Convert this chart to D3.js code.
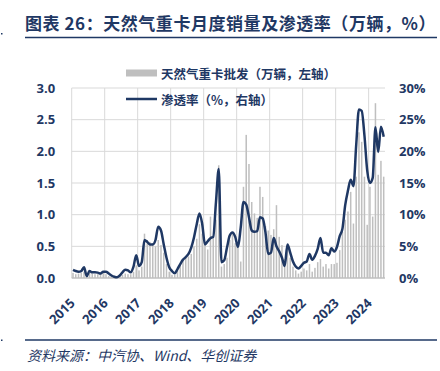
<!DOCTYPE html>
<html>
<head>
<meta charset="utf-8">
<script src="https://cdn.jsdelivr.net/npm/d3@7"></script>
<style>
  body { margin: 0; background: #fff; }
  svg text { font-family: "Open Sans", "Noto Sans CJK SC", sans-serif; }
</style>
</head>
<body>
<div id="chart"></div>
<script>
// years on the x axis, one tick per January
const years = ["2015", "2016", "2017", "2018", "2019", "2020", "2021", "2022", "2023", "2024"];

// monthly wholesale of natural-gas heavy trucks (10k units), Jan 2015 .. Jun 2024
const sales = [
  0.08, 0.06, 0.07, 0.08, 0.10, 0.05, 0.08, 0.07, 0.06, 0.06, 0.07, 0.09, // 2015
  0.06, 0.03, 0.04, 0.03, 0.02, 0.03, 0.05, 0.07, 0.06, 0.06, 0.10, 0.20, // 2016
  0.12, 0.18, 0.70, 0.60, 0.57, 0.55, 0.50, 0.60, 0.52, 0.40, 0.22, 0.10, // 2017
  0.05, 0.05, 0.12, 0.22, 0.28, 0.32, 0.34, 0.38, 0.50, 0.62, 0.85, 0.70, // 2018
  0.55, 0.45, 0.97, 0.66, 0.92, 1.78, 0.18, 0.22, 0.32, 0.60, 0.73, 0.55, // 2019
  0.52, 0.26, 1.44, 2.26, 1.80, 1.20, 1.02, 0.95, 1.44, 1.28, 0.82, 0.75, // 2020
  0.68, 0.77, 1.15, 0.65, 0.52, 0.30, 0.52, 0.32, 0.18, 0.12, 0.07, 0.10, // 2021
  0.15, 0.12, 0.22, 0.10, 0.16, 0.25, 0.30, 0.18, 0.22, 0.15, 0.22, 0.22, // 2022
  0.24, 0.44, 0.73, 0.92, 1.05, 1.36, 0.86, 1.60, 2.30, 2.15, 1.60, 0.84, // 2023
  1.44, 0.97, 2.76, 1.63, 1.85, 1.60                                      // 2024
];

// penetration rate (%), same months
const rate = [
  1.3, 1.1, 1.0, 1.1, 1.7, 0.3, 1.1, 0.9, 0.9, 0.85, 0.7, 1.0,
  1.0, 0.7, 0.4, 0.2, 0.1, 0.4, 0.9, 1.3, 1.2, 0.9, 1.8, 3.6,
  1.9, 2.5, 6.0, 5.7, 5.3, 5.3, 6.0, 8.1, 7.5, 5.3, 3.2, 1.7,
  1.1, 0.75, 1.4, 2.2, 2.9, 3.3, 3.8, 4.8, 6.4, 8.5, 10.2, 8.5,
  5.3, 5.8, 6.3, 6.5, 12.0, 17.2, 2.5, 2.8, 4.8, 6.7, 7.2, 6.5,
  4.9, 8.0, 12.0, 11.6, 9.6, 7.5, 7.3, 7.4, 9.6, 9.4, 7.2, 3.8,
  4.0, 6.3, 5.0, 4.2, 3.2, 1.9, 5.3, 4.0, 2.6, 1.8, 1.5, 1.9,
  2.4, 2.6, 3.8, 2.9, 3.5, 4.6, 6.3, 4.0, 4.0, 3.6, 4.7, 4.2,
  4.9, 6.6, 7.8, 11.5, 13.8, 15.5, 14.5, 21.0, 26.6, 26.4, 22.5, 17.0,
  15.0, 15.8, 23.8, 19.9, 23.9, 22.3
];

const leftTicks = [0, 0.5, 1.0, 1.5, 2.0, 2.5, 3.0];
const rightTicks = [0, 5, 10, 15, 20, 25, 30];

const months = sales.map((d, i) => years[0] + "-" + i);
const data = months.map((m, i) => ({ m: m, sales: sales[i], rate: rate[i] }));

const navy = "#1f3864";
const W = 440, H = 371;
const margin = { left: 71.7, top: 88, right: 55, bottom: 93 };
const width = W - margin.left - margin.right;
const height = H - margin.top - margin.bottom;

const svg = d3.select("#chart").append("svg")
  .attr("width", W)
  .attr("height", H);

// title + rules
svg.append("text")
  .attr("x", 25)
  .attr("y", 30)
  .attr("fill", navy)
  .attr("font-size", 17)
  .attr("font-weight", "bold")
  .attr("letter-spacing", 0.55)
  .style("font-family", "'Noto Sans CJK SC', sans-serif")
  .text("图表 26：天然气重卡月度销量及渗透率（万辆，%）");

svg.append("line")
  .attr("x1", 25).attr("x2", 437)
  .attr("y1", 37.5).attr("y2", 37.5)
  .attr("stroke", navy).attr("stroke-width", 1.5);

svg.append("line")
  .attr("x1", 25).attr("x2", 437)
  .attr("y1", 340).attr("y2", 340)
  .attr("stroke", navy).attr("stroke-width", 1.5);

svg.append("rect").attr("x", 1).attr("y", 33).attr("width", 1.5).attr("height", 1.5).attr("fill", navy);
svg.append("rect").attr("x", 1).attr("y", 339.5).attr("width", 1.5).attr("height", 1.5).attr("fill", navy);

svg.append("text")
  .attr("x", 27)
  .attr("y", 361)
  .attr("fill", navy)
  .attr("font-size", 14)
  .attr("font-style", "italic")
  .style("font-family", "'Noto Sans CJK SC', sans-serif")
  .text("资料来源：中汽协、Wind、华创证券");

const g = svg.append("g")
  .attr("transform", `translate(${margin.left},${margin.top})`);

const x = d3.scaleBand()
  .domain(months)
  .range([0, width])
  .paddingInner(0.45)
  .paddingOuter(0.2);

const y = d3.scaleLinear()
  .domain([0, 3])
  .range([height, 0]);

const y2 = d3.scaleLinear()
  .domain([0, 30])
  .range([height, 0]);

const step = x.step();
const yearX = years.map((yr, i) => i * 12 * step);

// grid
g.append("g")
  .selectAll("line")
  .data(leftTicks.slice(1))
  .enter().append("line")
  .attr("x1", 0).attr("x2", width)
  .attr("y1", d => y(d)).attr("y2", d => y(d))
  .attr("stroke", "#d9d9d9").attr("stroke-width", 1);

g.append("g")
  .selectAll("line")
  .data(yearX)
  .enter().append("line")
  .attr("x1", d => d).attr("x2", d => d)
  .attr("y1", 0).attr("y2", height)
  .attr("stroke", "#d9d9d9").attr("stroke-width", 1);

// bars
g.selectAll("rect.bar")
  .data(data)
  .enter().append("rect")
  .attr("class", "bar")
  .attr("x", d => x(d.m))
  .attr("y", d => y(d.sales))
  .attr("width", x.bandwidth())
  .attr("height", d => height - y(d.sales))
  .attr("fill", "#bfbfbf");

// baseline
g.append("line")
  .attr("x1", 0).attr("x2", width)
  .attr("y1", height).attr("y2", height)
  .attr("stroke", "#bfbfbf").attr("stroke-width", 1.5);

// line
const line = d3.line()
  .x(d => x(d.m) + x.bandwidth() / 2)
  .y(d => y2(d.rate))
  .curve(d3.curveMonotoneX);

g.append("path")
  .datum(data)
  .attr("fill", "none")
  .attr("stroke", navy)
  .attr("stroke-width", 2.5)
  .attr("stroke-linejoin", "round")
  .attr("d", line);

// axes
const leftAxis = g.append("g")
  .call(d3.axisLeft(y).tickValues(leftTicks).tickFormat(d3.format(".1f")).tickSize(0).tickPadding(16.5));
leftAxis.select(".domain").remove();
leftAxis.selectAll("text")
  .attr("fill", navy).attr("font-size", 13).attr("font-weight", "bold")
  .style("font-family", "'Open Sans', sans-serif");

const rightAxis = g.append("g")
  .attr("transform", `translate(${width},0)`)
  .call(d3.axisRight(y2).tickValues(rightTicks).tickFormat(d => d + "%").tickSize(0).tickPadding(14));
rightAxis.select(".domain").remove();
rightAxis.selectAll("text")
  .attr("fill", navy).attr("font-size", 13).attr("font-weight", "bold")
  .style("font-family", "'Open Sans', sans-serif");

g.append("g")
  .selectAll("text")
  .data(years)
  .enter().append("text")
  .attr("transform", (d, i) => `translate(${yearX[i] + 4},${height + 26}) rotate(-45)`)
  .attr("text-anchor", "end")
  .attr("fill", navy)
  .attr("font-size", 13)
  .attr("font-weight", "bold")
  .style("font-family", "'Open Sans', sans-serif")
  .text(d => d);

// legend
const legend = svg.append("g");
legend.append("rect")
  .attr("x", 126).attr("y", 69.5)
  .attr("width", 31).attr("height", 7)
  .attr("fill", "#bfbfbf");
legend.append("text")
  .attr("x", 161).attr("y", 73)
  .attr("dominant-baseline", "central")
  .attr("fill", navy).attr("font-size", 12.5).attr("font-weight", "bold")
  .style("font-family", "'Noto Sans CJK SC', sans-serif")
  .text("天然气重卡批发（万辆，左轴）");
legend.append("line")
  .attr("x1", 126).attr("x2", 157)
  .attr("y1", 99).attr("y2", 99)
  .attr("stroke", navy).attr("stroke-width", 2.5);
legend.append("text")
  .attr("x", 161).attr("y", 99)
  .attr("dominant-baseline", "central")
  .attr("fill", navy).attr("font-size", 12.5).attr("font-weight", "bold")
  .style("font-family", "'Noto Sans CJK SC', sans-serif")
  .text("渗透率（%，右轴）");
</script>
</body>
</html>
